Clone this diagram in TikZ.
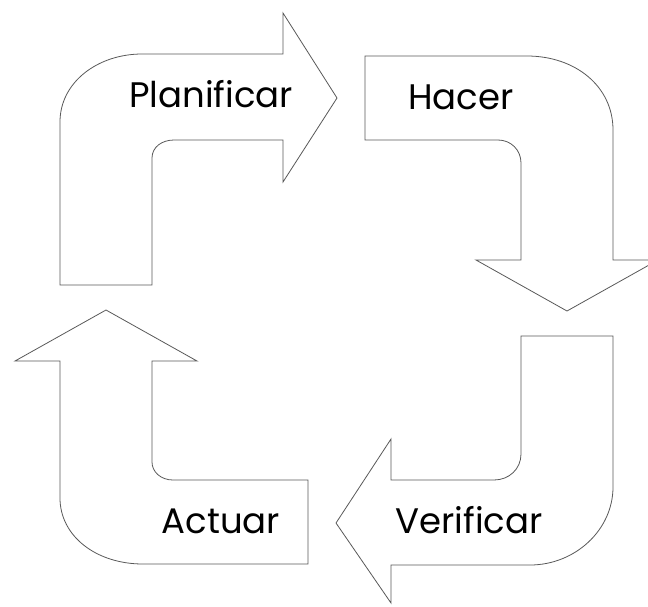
\documentclass[tikz,border=0pt]{standalone}
\usepackage{fontspec}
\setmainfont{Poppins}
\begin{document}
\begin{tikzpicture}[x=1pt,y=-1pt,
  bentarrow/.style={draw=black!65, line width=0.8pt, line join=miter, fill=white},
  steplabel/.style={font=\fontsize{35.5}{40}\selectfont, text=black, inner sep=0pt, anchor=base}]
\useasboundingbox (0,0) rectangle (648,606);

% Planificar: up, then right
\draw[bentarrow] (60,285) -- (60,122) .. controls (60,82) and (98,54) .. (142,54)
  -- (283,54) -- (283,13) -- (337,98) -- (283,182) -- (283,140) -- (174,140)
  .. controls (162,140) and (152,147) .. (152,158) -- (152,285) -- cycle;

% Hacer: right, then down
\draw[bentarrow] (365,56) -- (527,56) .. controls (575,56) and (613,86) .. (613,130)
  -- (613,260) -- (658,260) -- (567,311) -- (476,260) -- (521,260) -- (521,163)
  .. controls (521,150) and (511,140) .. (498,140) -- (365,140) -- cycle;

% Verificar: down, then left
\draw[bentarrow] (521,336) -- (613,336) -- (613,487)
  .. controls (613,530) and (575,565) .. (530,565)
  -- (391,565) -- (391,603) -- (336,523) -- (391,439) -- (391,480) -- (494,480)
  .. controls (509,480) and (521,469) .. (521,454) -- cycle;

% Actuar: left, then up
\draw[bentarrow] (308,564) -- (143,564) .. controls (96,564) and (60,536) .. (60,498)
  -- (60,361) -- (15,361) -- (106,310) -- (197,361) -- (152,361) -- (152,462)
  .. controls (152,472) and (161,480) .. (173,480) -- (308,480) -- cycle;

\node[steplabel] (plan) at (211,107) {Planificar};
\node[steplabel] (hacer) at (461,109) {Hacer};
\node[steplabel] (verif) at (469,533) {Verificar};
\node[steplabel] (actuar) at (221,533) {Actuar};
\end{tikzpicture}
\end{document}
